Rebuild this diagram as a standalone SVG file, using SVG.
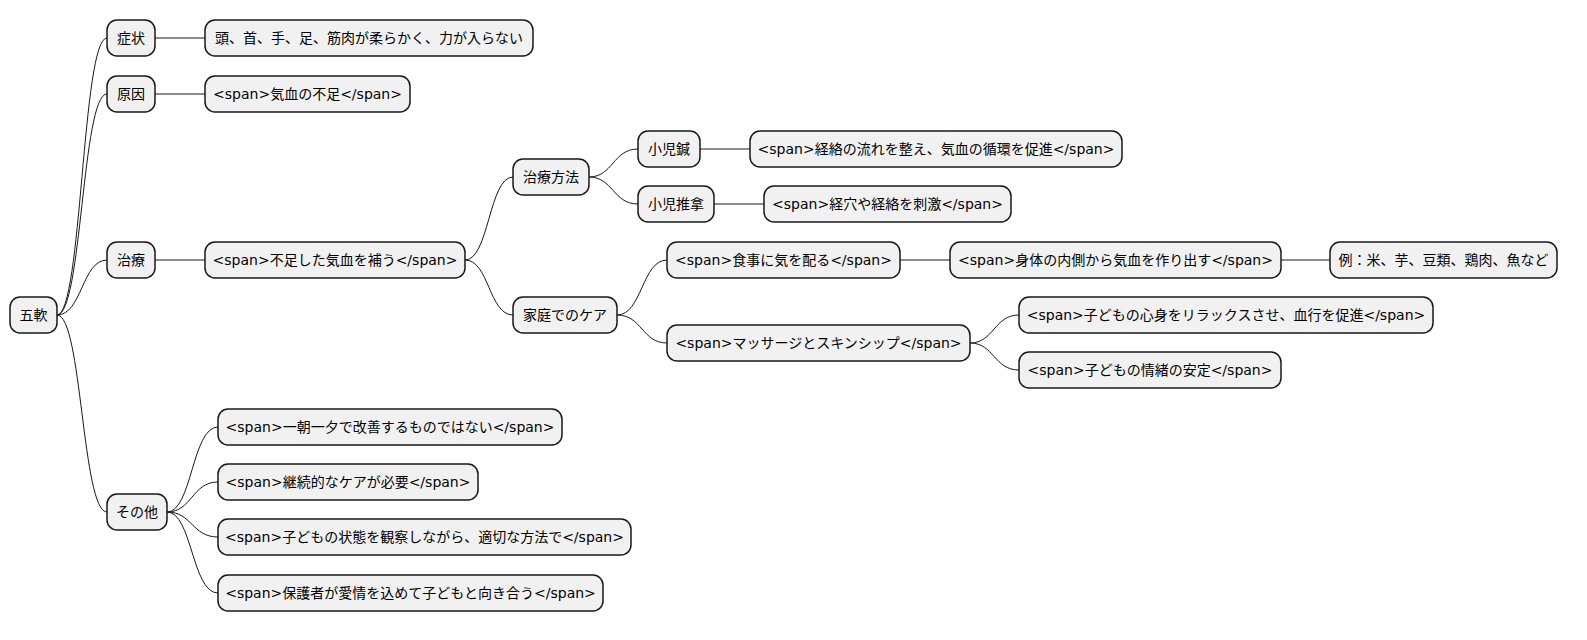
<svg xmlns="http://www.w3.org/2000/svg" width="1587" height="640" viewBox="0 0 1587 640">
<style>
.n rect{fill:#f1f1f1;stroke:#181818;stroke-width:1.5}
.n text{font-family:"DejaVu Sans","Noto Sans CJK JP",sans-serif;font-size:14px;fill:#000;text-anchor:middle;dominant-baseline:central}
#edges path{fill:none;stroke:#181818;stroke-width:1}
</style>
<rect width="1587" height="640" fill="#fff"/>
<g id="edges">
<path d="M57,315 C82,315 82,38 107,38"/>
<path d="M57,315 C82,315 82,94 107,94"/>
<path d="M57,315 C82,315 82,260 107,260"/>
<path d="M57,315 C82,315 82,512 107,512"/>
<path d="M155,38 L205,38"/>
<path d="M155,94 L205,94"/>
<path d="M155,260 L205,260"/>
<path d="M465,260 C489,260 489,177 513,177"/>
<path d="M465,260 C489,260 489,315 513,315"/>
<path d="M589,177 C613,177 613,149 638,149"/>
<path d="M589,177 C613,177 613,204 638,204"/>
<path d="M700,149 L750,149"/>
<path d="M714,204 L764,204"/>
<path d="M617,315 C642,315 642,260 667,260"/>
<path d="M617,315 C642,315 642,343 667,343"/>
<path d="M900,260 L950,260"/>
<path d="M1281,260 L1330,260"/>
<path d="M970,343 C994,343 994,315 1019,315"/>
<path d="M970,343 C994,343 994,370 1019,370"/>
<path d="M167,512 C192,512 192,427 218,427"/>
<path d="M167,512 C192,512 192,482 218,482"/>
<path d="M167,512 C192,512 192,537 218,537"/>
<path d="M167,512 C192,512 192,593 218,593"/>
</g>
<g id="n0" class="n"><rect x="10" y="297" width="47" height="36" rx="10"/><text x="33.5" y="315">五軟</text></g>
<g id="n1" class="n"><rect x="107" y="20" width="48" height="36" rx="10"/><text x="131" y="38">症状</text></g>
<g id="n2" class="n"><rect x="205" y="20" width="328" height="36" rx="10"/><text x="369" y="38">頭、首、手、足、筋肉が柔らかく、力が入らない</text></g>
<g id="n3" class="n"><rect x="107" y="76" width="48" height="36" rx="10"/><text x="131" y="94">原因</text></g>
<g id="n4" class="n"><rect x="205" y="76" width="205" height="36" rx="10"/><text x="307.5" y="94">&lt;span&gt;気血の不足&lt;/span&gt;</text></g>
<g id="n5" class="n"><rect x="107" y="242" width="48" height="36" rx="10"/><text x="131" y="260">治療</text></g>
<g id="n6" class="n"><rect x="205" y="242" width="260" height="36" rx="10"/><text x="335" y="260">&lt;span&gt;不足した気血を補う&lt;/span&gt;</text></g>
<g id="n7" class="n"><rect x="513" y="159" width="76" height="36" rx="10"/><text x="551" y="177">治療方法</text></g>
<g id="n8" class="n"><rect x="638" y="131" width="62" height="36" rx="10"/><text x="669" y="149">小児鍼</text></g>
<g id="n9" class="n"><rect x="750" y="131" width="372" height="36" rx="10"/><text x="936" y="149">&lt;span&gt;経絡の流れを整え、気血の循環を促進&lt;/span&gt;</text></g>
<g id="n10" class="n"><rect x="638" y="186" width="76" height="36" rx="10"/><text x="676" y="204">小児推拿</text></g>
<g id="n11" class="n"><rect x="764" y="186" width="247" height="36" rx="10"/><text x="887.5" y="204">&lt;span&gt;経穴や経絡を刺激&lt;/span&gt;</text></g>
<g id="n12" class="n"><rect x="513" y="297" width="104" height="36" rx="10"/><text x="565" y="315">家庭でのケア</text></g>
<g id="n13" class="n"><rect x="667" y="242" width="233" height="36" rx="10"/><text x="783.5" y="260">&lt;span&gt;食事に気を配る&lt;/span&gt;</text></g>
<g id="n14" class="n"><rect x="950" y="242" width="331" height="36" rx="10"/><text x="1115.5" y="260">&lt;span&gt;身体の内側から気血を作り出す&lt;/span&gt;</text></g>
<g id="n15" class="n"><rect x="1330" y="242" width="227" height="36" rx="10"/><text x="1443.5" y="260">例：米、芋、豆類、鶏肉、魚など</text></g>
<g id="n16" class="n"><rect x="667" y="325" width="303" height="36" rx="10"/><text x="818.5" y="343">&lt;span&gt;マッサージとスキンシップ&lt;/span&gt;</text></g>
<g id="n17" class="n"><rect x="1019" y="297" width="414" height="36" rx="10"/><text x="1226" y="315">&lt;span&gt;子どもの心身をリラックスさせ、血行を促進&lt;/span&gt;</text></g>
<g id="n18" class="n"><rect x="1019" y="352" width="262" height="36" rx="10"/><text x="1150" y="370">&lt;span&gt;子どもの情緒の安定&lt;/span&gt;</text></g>
<g id="n19" class="n"><rect x="107" y="494" width="60" height="36" rx="10"/><text x="137" y="512">その他</text></g>
<g id="n20" class="n"><rect x="218" y="409" width="344" height="36" rx="10"/><text x="390" y="427">&lt;span&gt;一朝一夕で改善するものではない&lt;/span&gt;</text></g>
<g id="n21" class="n"><rect x="218" y="464" width="260" height="36" rx="10"/><text x="348" y="482">&lt;span&gt;継続的なケアが必要&lt;/span&gt;</text></g>
<g id="n22" class="n"><rect x="218" y="519" width="413" height="36" rx="10"/><text x="424.5" y="537">&lt;span&gt;子どもの状態を観察しながら、適切な方法で&lt;/span&gt;</text></g>
<g id="n23" class="n"><rect x="218" y="575" width="385" height="36" rx="10"/><text x="410.5" y="593">&lt;span&gt;保護者が愛情を込めて子どもと向き合う&lt;/span&gt;</text></g>
</svg>
